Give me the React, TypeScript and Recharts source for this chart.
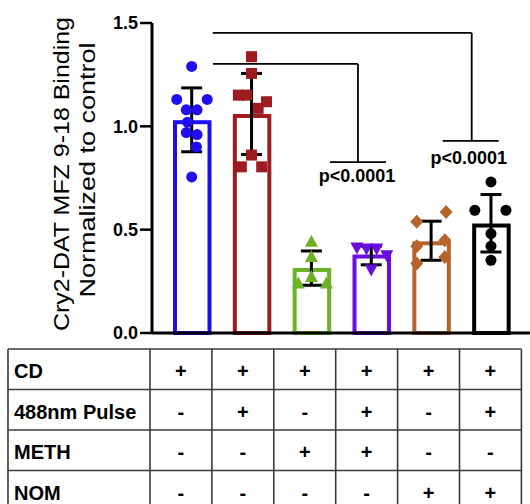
import React from 'react';
import {
  ComposedChart,
  Bar,
  Scatter,
  XAxis,
  YAxis,
  ErrorBar,
  ReferenceLine,
  ReferenceDot,
} from 'recharts';

// ---- data ----
const groups = ['CD', 'CD+Pulse', 'CD+METH', 'CD+Pulse+METH', 'CD+NOM', 'CD+Pulse+NOM'];
const groupX = [0, 1, 2, 3, 4, 5];
const means = [1.02, 1.05, 0.305, 0.37, 0.434, 0.52];
const errLow = [0.143, 0.186, 0.074, 0.04, 0.082, 0.128];
const errHigh = [0.166, 0.206, 0.092, 0.05, 0.107, 0.15];
const colors = ['#1f0ff0', '#9e1b20', '#6cb224', '#6a0de0', '#b5652b', '#000000'];
const markers = ['circle', 'square', 'triangle', 'triangleDown', 'diamond', 'circle'];

const pts0 = [1.29, 1.13, 1.13, 1.08, 1.08, 1.02, 0.97, 0.96, 0.9, 0.755];
const jit0 = [0, -0.25, 0.26, -0.09, 0.09, -0.07, -0.09, 0.09, 0.08, 0];
const pts1 = [1.337, 1.256, 1.151, 1.151, 1.119, 1.087, 0.861, 0.804, 0.804];
const jit1 = [0, 0, -0.22, -0.08, 0.25, 0.11, 0, -0.17, 0.17];
const pts2 = [0.441, 0.368, 0.271, 0.239, 0.239];
const jit2 = [0, 0, 0, -0.22, 0.25];
const pts3 = [0.414, 0.409, 0.409, 0.376, 0.307];
const jit3 = [-0.24, -0.08, 0.09, 0.26, 0];
const pts4 = [0.538, 0.586, 0.42, 0.449, 0.336, 0.368];
const jit4 = [-0.24, 0.25, -0.24, 0.23, -0.24, 0.23];
const pts5 = [0.731, 0.594, 0.594, 0.481, 0.42, 0.352];
const jit5 = [0, -0.27, 0.25, 0, 0, 0];
const points = [pts0, pts1, pts2, pts3, pts4, pts5];
const jitters = [jit0, jit1, jit2, jit3, jit4, jit5];

const yTicks = [0, 0.5, 1.0, 1.5];
const yLabel1 = 'Cry2-DAT MFZ 9-18 Binding';
const yLabel2 = 'Normalized to control';

// significance brackets (data units)
const bracketY = [1.452, 1.302];
const bracketX1 = [0.351, 0.356];
const bracketX2 = [4.678, 2.778];
const bracketDropY = [0.93, 0.827];
const bracketFootX1 = [4.194, 2.311];
const bracketFootX2 = [5.13, 3.246];
const pText = ['p<0.0001', 'p<0.0001'];
const pTextX = [4.628, 2.762];
const pTextY = [0.82, 0.732];

// condition table
const rowLabels = ['CD', '488nm Pulse', 'METH', 'NOM'];
const cdRow = ['+', '+', '+', '+', '+', '+'];
const pulseRow = ['-', '+', '-', '+', '-', '+'];
const methRow = ['-', '-', '+', '+', '-', '-'];
const nomRow = ['-', '-', '-', '-', '+', '+'];
const tableRows = [cdRow, pulseRow, methRow, nomRow];

const barData = groups.map((g, i) => ({ g, mean: means[i] }));
const errData = groupX.map((x, i) => ({ x, y: means[i], err: [errLow[i], errHigh[i]] }));

const FONT = '"Liberation Sans", Arial, sans-serif';

function makeShape(kind: string, color: string) {
  return (props: any) => {
    const { cx, cy } = props;
    if (cx == null || cy == null) return <g />;
    if (kind === 'circle') return <circle cx={cx} cy={cy} r={5.5} fill={color} />;
    if (kind === 'square')
      return <rect x={cx - 5.5} y={cy - 5.5} width={11} height={11} fill={color} />;
    if (kind === 'triangle')
      return (
        <polygon
          points={`${cx},${cy - 7} ${cx - 6.5},${cy + 5} ${cx + 6.5},${cy + 5}`}
          fill={color}
        />
      );
    if (kind === 'triangleDown')
      return (
        <polygon
          points={`${cx},${cy + 7} ${cx - 6.5},${cy - 5} ${cx + 6.5},${cy - 5}`}
          fill={color}
        />
      );
    return (
      <polygon
        points={`${cx},${cy - 7} ${cx + 6.5},${cy} ${cx},${cy + 7} ${cx - 6.5},${cy}`}
        fill={color}
      />
    );
  };
}

const YLabel = (props: any) => {
  const vb = props.viewBox || { x: 0, y: 23, width: 152, height: 310 };
  const cy1 = vb.y + 151;
  const cy2 = vb.y + 147;
  const x1 = vb.x + 69;
  const x2 = vb.x + 95;
  return (
    <g>
      <text
        x={x1}
        y={cy1}
        transform={`rotate(-90 ${x1} ${cy1})`}
        textAnchor="middle"
        fontFamily={FONT}
        fontSize={22}
        fill="#000"
        textLength={314}
        lengthAdjust="spacingAndGlyphs"
      >
        {yLabel1}
      </text>
      <text
        x={x2}
        y={cy2}
        transform={`rotate(-90 ${x2} ${cy2})`}
        textAnchor="middle"
        fontFamily={FONT}
        fontSize={22}
        fill="#000"
        textLength={255}
        lengthAdjust="spacingAndGlyphs"
      >
        {yLabel2}
      </text>
    </g>
  );
};

const TABLE_LEFT = 8;
const TABLE_TOP = 349;
const LABEL_COL_RIGHT = 150;
const COL_W = 61.9;
const ROW_H = 40.5;

function ConditionTable() {
  const right = LABEL_COL_RIGHT + COL_W * groupX.length;
  const bottom = TABLE_TOP + ROW_H * rowLabels.length;
  return (
    <svg
      width={530}
      height={504}
      style={{ position: 'absolute', left: 0, top: 0, pointerEvents: 'none' }}
    >
      <g stroke="#3a3a3a" strokeWidth={1.6}>
        {Array.from({ length: rowLabels.length + 1 }).map((_, r) => (
          <line
            key={'h' + r}
            x1={TABLE_LEFT}
            x2={right}
            y1={TABLE_TOP + r * ROW_H}
            y2={TABLE_TOP + r * ROW_H}
          />
        ))}
        <line x1={TABLE_LEFT} x2={TABLE_LEFT} y1={TABLE_TOP} y2={bottom} />
        {Array.from({ length: groupX.length + 1 }).map((_, c) => (
          <line
            key={'v' + c}
            x1={LABEL_COL_RIGHT + c * COL_W}
            x2={LABEL_COL_RIGHT + c * COL_W}
            y1={TABLE_TOP}
            y2={bottom}
          />
        ))}
      </g>
      {rowLabels.map((lab, r) => (
        <text
          key={'l' + r}
          x={TABLE_LEFT + 6}
          y={TABLE_TOP + r * ROW_H + 29}
          fontFamily={FONT}
          fontWeight="bold"
          fontSize={20}
          fill="#000"
        >
          {lab}
        </text>
      ))}
      {tableRows.map((row, r) =>
        row.map((s, c) => (
          <text
            key={'c' + r + '-' + c}
            x={LABEL_COL_RIGHT + c * COL_W + COL_W / 2}
            y={TABLE_TOP + r * ROW_H + 29}
            textAnchor="middle"
            fontFamily={FONT}
            fontWeight="bold"
            fontSize={20}
            fill="#000"
          >
            {s}
          </text>
        ))
      )}
    </svg>
  );
}

export default function App() {
  return (
    <div style={{ position: 'absolute', left: 0, top: 0, width: 530, height: 504, background: '#fff' }}>
      <ComposedChart
        width={530}
        height={504}
        data={barData}
        margin={{ top: 23, right: 0, bottom: 141, left: 0 }}
      >
        <XAxis
          xAxisId="cat"
          dataKey="g"
          type="category"
          padding={{ left: 10, right: 9 }}
          height={30}
          tick={false}
          tickSize={12}
          axisLine={{ stroke: '#000', strokeWidth: 3 }}
          tickLine={{ stroke: '#000', strokeWidth: 2.5 }}
        />
        <XAxis
          xAxisId="num"
          dataKey="x"
          type="number"
          domain={[-0.663, 5.652]}
          allowDataOverflow
          hide
        />
        <YAxis
          type="number"
          domain={[0, 1.5]}
          ticks={yTicks}
          width={152}
          tickSize={12}
          tickMargin={2}
          tickFormatter={(v: number) => v.toFixed(1)}
          axisLine={{ stroke: '#000', strokeWidth: 3 }}
          tickLine={{ stroke: '#000', strokeWidth: 2.5 }}
          tick={{ fill: '#000', fontSize: 18, fontWeight: 'bold', fontFamily: FONT }}
          label={{ content: YLabel }}
        />
        <Bar
          xAxisId="cat"
          dataKey="mean"
          barSize={34.5}
          fill="#fff"
          strokeWidth={4}
          isAnimationActive={false}
          shape={(p: any) => (
            <rect
              x={p.x}
              y={p.y}
              width={p.width}
              height={p.height}
              fill="#fff"
              stroke={colors[p.index]}
              strokeWidth={4}
            />
          )}
        />
        {points.map((pts, g) => (
          <Scatter
            key={'s' + g}
            xAxisId="num"
            data={pts.map((v, k) => ({ x: groupX[g] + jitters[g][k], y: v }))}
            dataKey="y"
            shape={makeShape(markers[g], colors[g])}
            isAnimationActive={false}
          />
        ))}
        <Scatter xAxisId="num" data={errData} dataKey="y" shape={() => <g />} isAnimationActive={false}>
          <ErrorBar dataKey="err" direction="y" width={10.5} stroke="#000" strokeWidth={3} />
        </Scatter>
        {bracketY.map((by, i) => (
          <ReferenceLine
            key={'bh' + i}
            xAxisId="num"
            segment={[
              { x: bracketX1[i], y: by },
              { x: bracketX2[i], y: by },
            ]}
            stroke="#000"
            strokeWidth={1.8}
            ifOverflow="visible"
          />
        ))}
        {bracketY.map((by, i) => (
          <ReferenceLine
            key={'bv' + i}
            xAxisId="num"
            segment={[
              { x: bracketX2[i], y: by },
              { x: bracketX2[i], y: bracketDropY[i] },
            ]}
            stroke="#000"
            strokeWidth={1.8}
            ifOverflow="visible"
          />
        ))}
        {bracketY.map((_, i) => (
          <ReferenceLine
            key={'bf' + i}
            xAxisId="num"
            segment={[
              { x: bracketFootX1[i], y: bracketDropY[i] },
              { x: bracketFootX2[i], y: bracketDropY[i] },
            ]}
            stroke="#000"
            strokeWidth={1.8}
            ifOverflow="visible"
          />
        ))}
        {pText.map((t, i) => (
          <ReferenceDot
            key={'pt' + i}
            xAxisId="num"
            x={pTextX[i]}
            y={pTextY[i]}
            r={0}
            ifOverflow="visible"
            shape={(p: any) => (
              <text
                x={p.cx}
                y={p.cy}
                textAnchor="middle"
                fontFamily={FONT}
                fontWeight="bold"
                fontSize={18}
                fill="#000"
              >
                {t}
              </text>
            )}
          />
        ))}
      </ComposedChart>
      <ConditionTable />
    </div>
  );
}
